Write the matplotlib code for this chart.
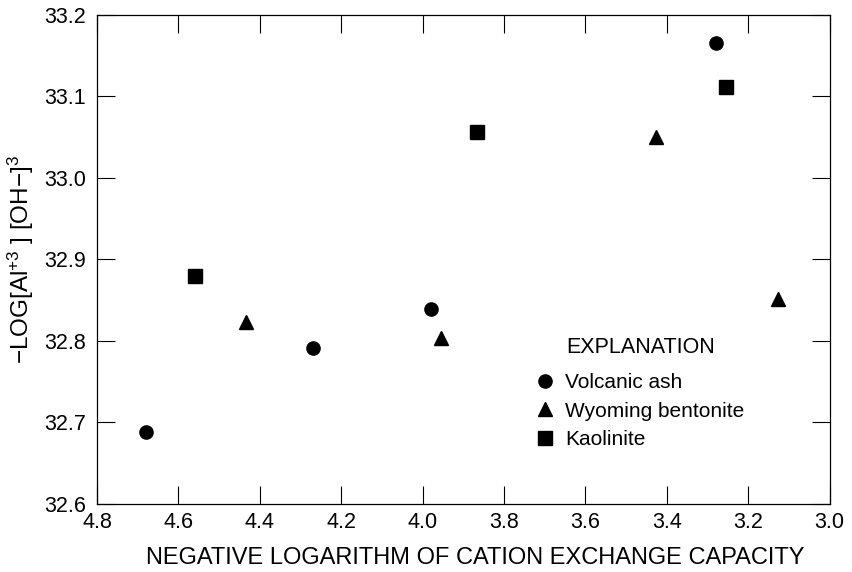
import matplotlib
matplotlib.use("Agg")
import matplotlib.pyplot as plt

plt.rcParams['font.family'] = ['Liberation Sans', 'DejaVu Sans']
plt.rcParams['mathtext.fontset'] = 'custom'
plt.rcParams['mathtext.rm'] = 'Liberation Sans'
plt.rcParams['mathtext.it'] = 'Liberation Sans'

# data
ash_x = [4.68, 4.27, 3.98, 3.28]
ash_y = [32.688, 32.791, 32.839, 33.165]

bent_x = [4.435, 3.956, 3.427, 3.127]
bent_y = [32.823, 32.804, 33.050, 32.852]

kaol_x = [4.558, 3.867, 3.254]
kaol_y = [32.880, 33.056, 33.112]

xticks = [4.8, 4.6, 4.4, 4.2, 4.0, 3.8, 3.6, 3.4, 3.2, 3.0]
yticks = [32.6, 32.7, 32.8, 32.9, 33.0, 33.1, 33.2]

fig = plt.figure(figsize=(8.53, 5.72), dpi=100)
ax = fig.add_axes([0.1137, 0.119, 0.859, 0.855])

ax.plot(ash_x, ash_y, 'o', color='black', markersize=9.5, label='Volcanic ash')
ax.plot(bent_x, bent_y, '^', color='black', markersize=10, label='Wyoming bentonite')
ax.plot(kaol_x, kaol_y, 's', color='black', markersize=9.5, label='Kaolinite')

ax.set_xlim(4.8, 3.0)
ax.set_ylim(32.6, 33.2)
ax.set_xticks(xticks)
ax.set_yticks(yticks)
ax.set_xticklabels(["%.1f" % v for v in xticks])
ax.set_yticklabels(["%.1f" % v for v in yticks])

ax.tick_params(direction='in', length=13, width=0.8, top=True, right=True,
               labelsize=15.5, colors='black')
ax.tick_params(axis='x', pad=6)
ax.tick_params(axis='y', pad=8)
for s in ax.spines.values():
    s.set_linewidth(0.9)

ax.set_xlabel("NEGATIVE LOGARITHM OF CATION EXCHANGE CAPACITY", fontsize=17)
ax.xaxis.set_label_coords(0.516, -0.088)
ax.set_ylabel(r"$-$LOG[Al$^{+3}$ ] [OH$-$]$^{3}$", fontsize=17.5, labelpad=6)

ax.text(0.6405, 0.319, "EXPLANATION", transform=ax.transAxes, fontsize=15.5,
        ha='left', va='center')
ax.legend(loc='upper left', bbox_to_anchor=(0.598, 0.268), frameon=False,
          fontsize=15, handlelength=0.9, handletextpad=0.55, labelspacing=0.47,
          borderaxespad=0, borderpad=0)

fig.savefig("out.png", dpi=100)
